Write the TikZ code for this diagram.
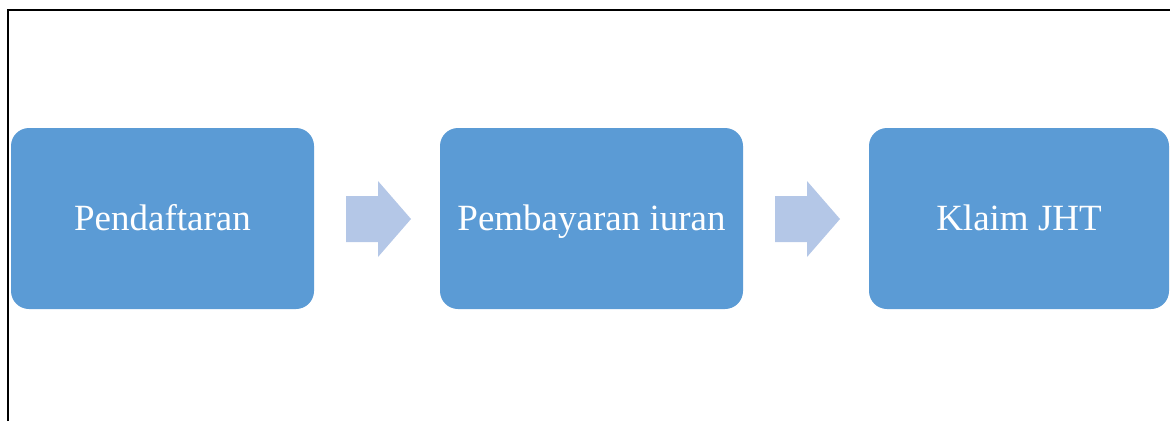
\documentclass[tikz,border=0pt]{standalone}
\usepackage{fontspec}
\setmainfont{Liberation Serif}
\definecolor{boxblue}{HTML}{5B9BD5}
\definecolor{arrowblue}{HTML}{B4C7E7}
\begin{document}
\begin{tikzpicture}[x=1pt,y=-1pt,
  stepbox/.style={fill=boxblue, draw=none, rounded corners=18pt, text=white,
    font=\fontsize{37}{44}\selectfont, inner sep=0pt, minimum height=181pt,
    text height=27pt, text depth=4pt},
  flowarrow/.style={fill=arrowblue, draw=none}]
\useasboundingbox (0,0) rectangle (1170,421);
\draw[line width=2pt] (8,421) -- (8,10) -- (1170,10);
\node[stepbox, minimum width=303pt] (a) at (162.5,218.5) {Pendaftaran};
\node[stepbox, minimum width=303pt] (b) at (591.5,218.5) {Pembayaran iuran};
\node[stepbox, minimum width=300pt] (c) at (1019,218.5) {Klaim JHT};
\fill[flowarrow] (346,196) -- (378,196) -- (378,181) -- (411,219) -- (378,257) -- (378,242) -- (346,242) -- cycle;
\fill[flowarrow] (775,196) -- (807,196) -- (807,181) -- (840,219) -- (807,257) -- (807,242) -- (775,242) -- cycle;
\end{tikzpicture}
\end{document}
